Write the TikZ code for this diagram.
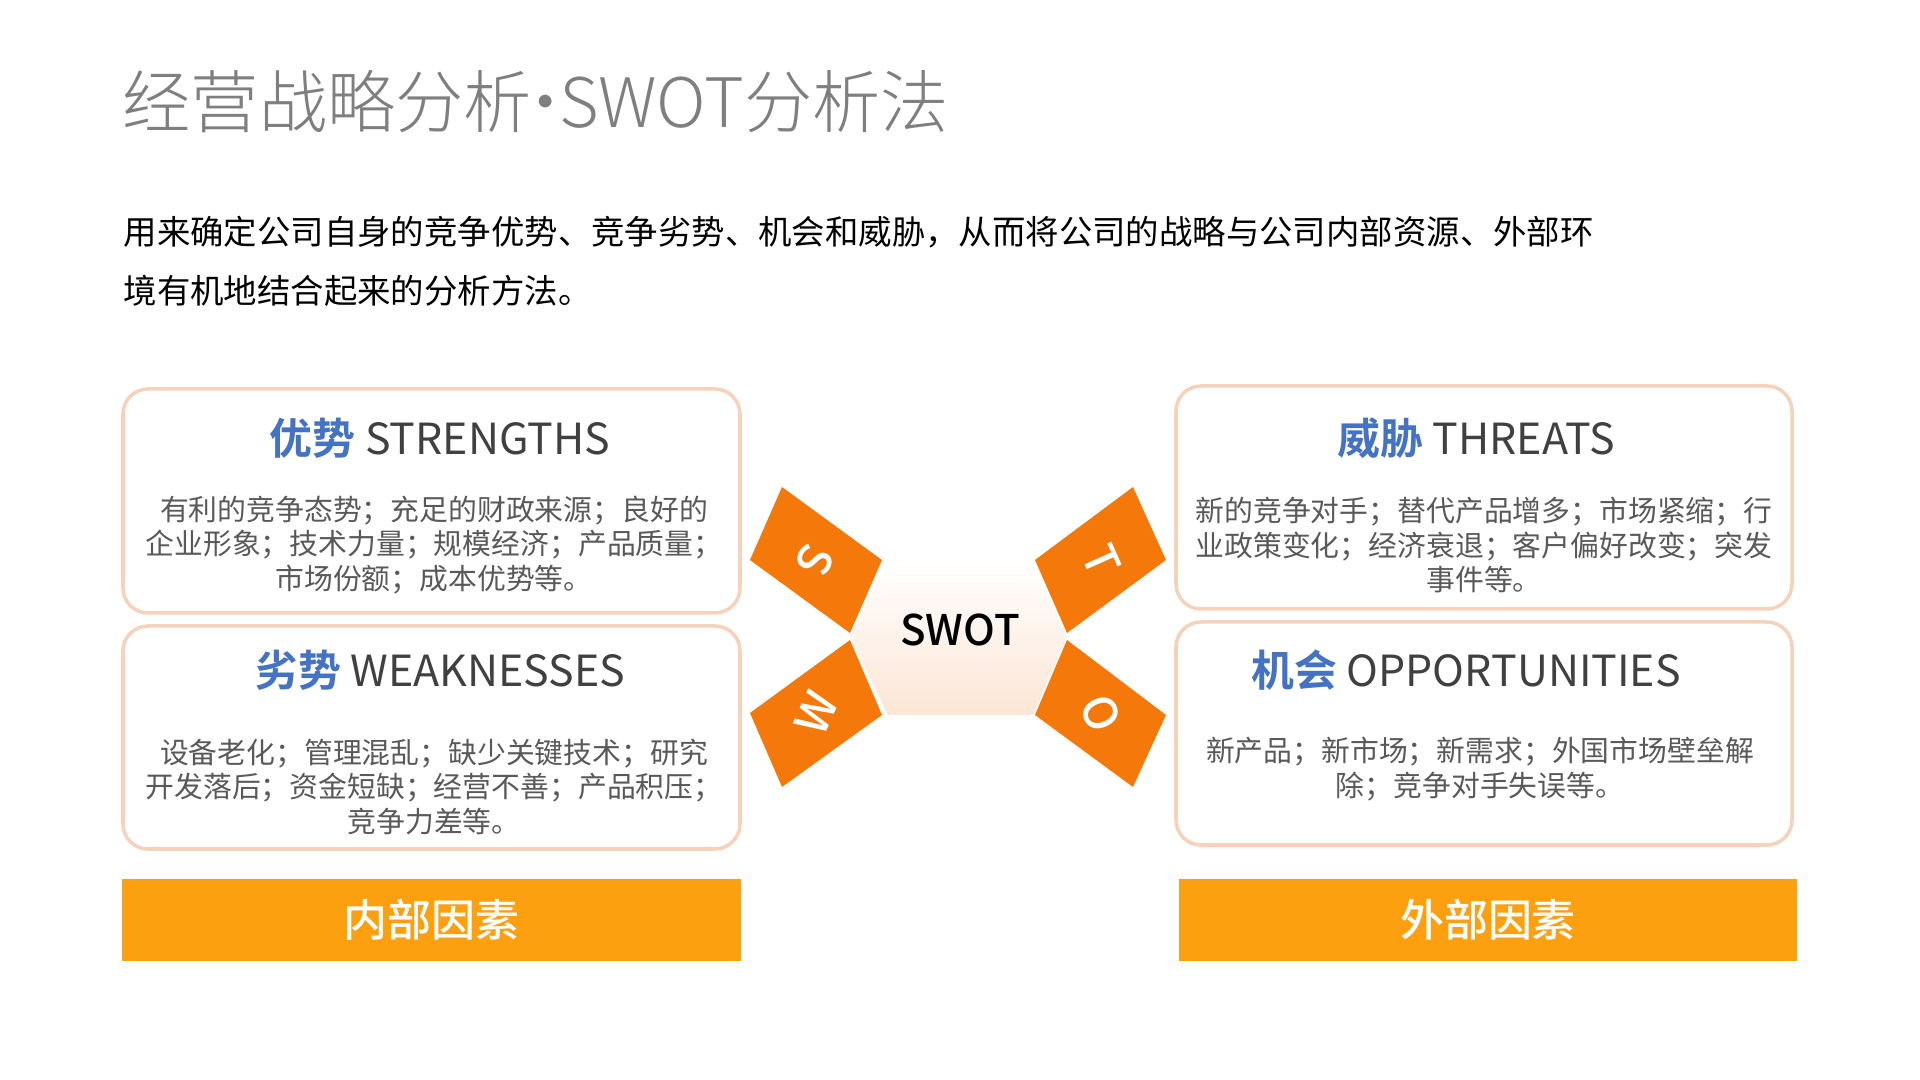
\documentclass[tikz,border=0pt]{standalone}
\usepackage{fontspec}
\setmainfont{Noto Sans CJK SC}
\newfontfamily\cjkbold{Noto Sans CJK SC Bold}
\newfontfamily\cjkmed{Noto Sans CJK SC Medium}
\newfontfamily\cjklight{Noto Sans CJK SC Light}
\usetikzlibrary{shadings}
\definecolor{ttl}{HTML}{7F7F7F}
\definecolor{bordr}{HTML}{F6D2BA}
\definecolor{blu}{HTML}{4472C4}
\definecolor{headg}{HTML}{404040}
\definecolor{bodyc}{HTML}{595959}
\definecolor{barc}{HTML}{FDA010}
\definecolor{flap}{HTML}{F5780A}
\definecolor{peach}{HTML}{FCE6D6}
\begin{document}
\begin{tikzpicture}[x=0.01cm,y=-0.01cm,
  card/.style={draw=bordr,line width=1pt,rounded corners=0.25cm,fill=white},
  bar/.style={fill=barc,minimum width=6.18cm,minimum height=0.81cm,inner sep=0pt,text=white,font=\fontsize{12.5}{13}\selectfont\cjkmed},
  head/.style={font=\fontsize{12.2}{13}\selectfont,text=headg},
  bodyt/.style={font=\fontsize{8.2}{9.9}\selectfont,text=bodyc,align=center},
  flapstyle/.style={fill=flap},
  letter/.style={text=white,font=\fontsize{13}{13}\selectfont\cjkmed}]
\useasboundingbox (0,0) rectangle (1920,1080);
\node[anchor=west,inner sep=0pt,text=ttl,font=\fontsize{19.4}{20}\selectfont\cjklight] (title) at (122,102) {经营战略分析\kern-0.3em·\kern-0.3em SWOT分析法};
\node[anchor=west,inner sep=0pt,font=\fontsize{9.5}{10}\selectfont,text=black] (d1) at (123,232) {用来确定公司自身的竞争优势、竞争劣势、机会和威胁，从而将公司的战略与公司内部资源、外部环};
\node[anchor=west,inner sep=0pt,font=\fontsize{9.5}{10}\selectfont,text=black] (d2) at (123,291) {境有机地结合起来的分析方法。};
% cards
\draw[card] (123,389) rectangle (740,613);
\draw[card] (123,626) rectangle (740,849);
\draw[card] (1176,386) rectangle (1792,609);
\draw[card] (1176,622) rectangle (1792,845);
\node[head] (sh) at (440,438) {{\cjkbold\color{blu}优势} STRENGTHS};
\node[bodyt] (sb) at (434,545) {有利的竞争态势；充足的财政来源；良好的\\企业形象；技术力量；规模经济；产品质量；\\市场份额；成本优势等。};
\node[head] (wh) at (440,670) {{\cjkbold\color{blu}劣势} WEAKNESSES};
\node[bodyt] (wb) at (434,787) {设备老化；管理混乱；缺少关键技术；研究\\开发落后；资金短缺；经营不善；产品积压；\\竞争力差等。};
\node[head] (th) at (1476,438) {{\cjkbold\color{blu}威胁} THREATS};
\node[bodyt] (tb) at (1484,545) {新的竞争对手；替代产品增多；市场紧缩；行\\业政策变化；经济衰退；客户偏好改变；突发\\事件等。};
\node[head] (oh) at (1466,670) {{\cjkbold\color{blu}机会} OPPORTUNITIES};
\node[bodyt] (ob) at (1480,769) {新产品；新市场；新需求；外国市场壁垒解\\除；竞争对手失误等。};
\node[bar] (inb) at (431.5,920) {内部因素};
\node[bar] (exb) at (1488,920) {外部因素};
% center hexagon
\shade[top color=white,bottom color=peach] (850,637) -- (888,560) -- (1033,560) -- (1067,637) -- (1033,715) -- (888,715) -- cycle;
\node[font=\fontsize{12}{13}\selectfont\cjkmed,text=black] (swot) at (960,630) {SWOT};
% flaps
\fill[flapstyle] (782,487) -- (882,560) -- (850,633) -- (750,560) -- cycle;
\fill[flapstyle] (1133,487) -- (1166,560) -- (1067,633) -- (1035,560) -- cycle;
\fill[flapstyle] (750,713) -- (850,640) -- (882,715) -- (782,787) -- cycle;
\fill[flapstyle] (1035,715) -- (1067,640) -- (1166,715) -- (1133,787) -- cycle;
\node[letter,rotate=-114] (ls) at (815,560) {S};
\node[letter,rotate=-66] (lt) at (1102,560) {T};
\node[letter,rotate=66] (lw) at (816,713) {W};
\node[letter,rotate=-66] (lo) at (1101,713) {O};
\end{tikzpicture}
\end{document}
